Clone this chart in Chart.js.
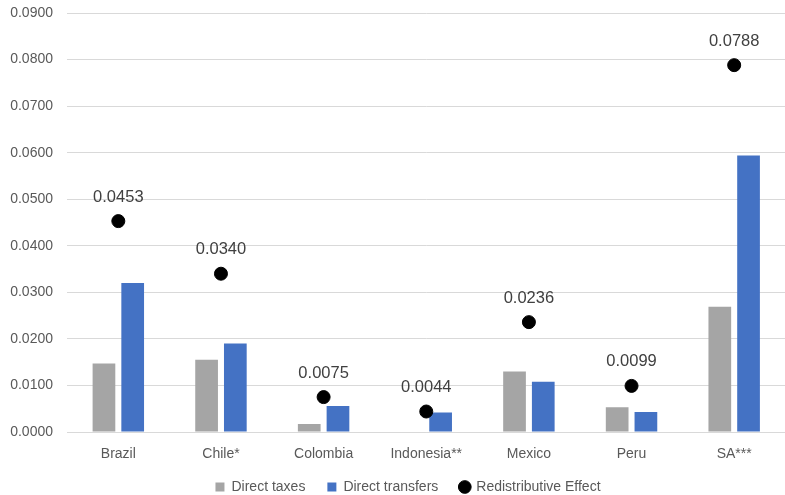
<!DOCTYPE html>
<html>
<head>
<meta charset="utf-8">
<script src="https://cdn.jsdelivr.net/npm/chart.js@4/dist/chart.umd.min.js"></script>
<style>
    html, body { margin: 0; padding: 0; background: #fff; overflow: hidden; }
    #wrap { width: 793px; height: 504px; }
</style>
</head>
<body>
<div id="wrap"><canvas id="chart"></canvas></div>
<script>
const countries = ['Brazil', 'Chile*', 'Colombia', 'Indonesia**', 'Mexico', 'Peru', 'SA***'];
const directTaxes = [0.0147, 0.0155, 0.0017, 0, 0.0130, 0.0053, 0.0269];
const directTransfers = [0.0320, 0.0190, 0.0056, 0.0042, 0.0108, 0.0043, 0.0594];
const redistributiveEffect = [0.0453, 0.0340, 0.0075, 0.0044, 0.0236, 0.0099, 0.0788];

const fontFamily = '"Liberation Sans", Arial, sans-serif';

// draws the value above each black dot
const pointLabels = {
    id: 'pointLabels',
    afterDatasetsDraw(chart) {
        const ctx = chart.ctx;
        const meta = chart.getDatasetMeta(2);
        ctx.save();
        ctx.font = '16.5px ' + fontFamily;
        ctx.fillStyle = '#404040';
        ctx.textAlign = 'center';
        ctx.textBaseline = 'middle';
        meta.data.forEach((pt, i) => {
            ctx.fillText(redistributiveEffect[i].toFixed(4), pt.x, pt.y - 24);
        });
        ctx.restore();
    }
};

// the legend sits a little right of the canvas centre in the original
const legendShift = {
    id: 'legendShift',
    afterLayout(chart) {
        if (chart.legend) {
            chart.legend.left += 12;
            chart.legend.right += 12;
        }
    }
};

const ctx = document.getElementById('chart').getContext('2d');
new Chart(ctx, {
    type: 'bar',
    data: {
        labels: countries,
        datasets: [
            {
                label: 'Direct taxes',
                data: directTaxes,
                backgroundColor: '#A5A5A5',
                categoryPercentage: 0.56,
                barPercentage: 0.79,
                pointStyle: 'rect',
                order: 1
            },
            {
                label: 'Direct transfers',
                data: directTransfers,
                backgroundColor: '#4472C4',
                categoryPercentage: 0.56,
                barPercentage: 0.79,
                pointStyle: 'rect',
                order: 1
            },
            {
                type: 'line',
                label: 'Redistributive Effect',
                data: redistributiveEffect,
                showLine: false,
                pointStyle: 'circle',
                pointRadius: 6.5,
                pointBackgroundColor: '#000',
                pointBorderColor: '#000',
                backgroundColor: '#000',
                borderColor: '#000',
                order: 0
            }
        ]
    },
    options: {
        responsive: true,
        maintainAspectRatio: false,
        animation: false,
        layout: { padding: { top: 13, right: 1, left: 0, bottom: 0 } },
        scales: {
            x: {
                grid: { display: false },
                border: { color: '#D9D9D9' },
                ticks: { color: '#595959', font: { family: fontFamily, size: 14 }, padding: 6 },
                afterFit: scale => { scale.height = 26; }
            },
            y: {
                min: 0,
                max: 0.09,
                ticks: {
                    stepSize: 0.01,
                    color: '#595959',
                    font: { family: fontFamily, size: 14 },
                    padding: 14,
                    callback: v => v.toFixed(4)
                },
                grid: { color: '#D9D9D9', drawTicks: false },
                border: { display: false },
                afterFit: scale => {
                    scale.width = 67;
                    scale.paddingTop = 0;
                    scale.paddingBottom = 0;
                }
            }
        },
        plugins: {
            legend: {
                position: 'bottom',
                labels: {
                    usePointStyle: true,
                    boxWidth: 9,
                    boxHeight: 9,
                    color: '#595959',
                    font: { family: fontFamily, size: 14 },
                    padding: 22,
                    sort: (a, b) => a.datasetIndex - b.datasetIndex
                }
            },
            tooltip: { enabled: false }
        }
    },
    plugins: [pointLabels, legendShift]
});
</script>
</body>
</html>
